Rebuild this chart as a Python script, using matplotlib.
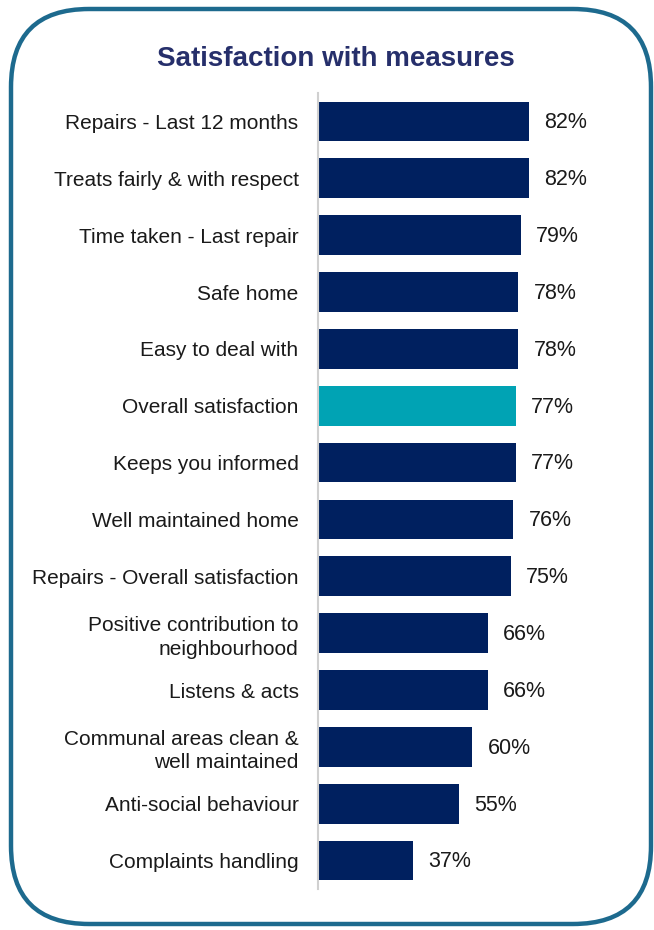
import matplotlib
matplotlib.use("Agg")
import matplotlib.pyplot as plt
from matplotlib.patches import FancyBboxPatch

categories = [
    "Repairs - Last 12 months",
    "Treats fairly & with respect",
    "Time taken - Last repair",
    "Safe home",
    "Easy to deal with",
    "Overall satisfaction",
    "Keeps you informed",
    "Well maintained home",
    "Repairs - Overall satisfaction",
    "Positive contribution to\nneighbourhood",
    "Listens & acts",
    "Communal areas clean &\nwell maintained",
    "Anti-social behaviour",
    "Complaints handling",
]
values = [82, 82, 79, 78, 78, 77, 77, 76, 75, 66, 66, 60, 55, 37]
highlight = "Overall satisfaction"

NAVY = "#00205f"
TEAL = "#00a3b4"

plt.rcParams['font.family'] = ['Liberation Sans', 'DejaVu Sans']

W, H = 654, 930
fig = plt.figure(figsize=(W / 100, H / 100), dpi=100)

# background axes in pixel coordinates for the rounded frame
bg = fig.add_axes([0, 0, 1, 1])
bg.set_xlim(0, W)
bg.set_ylim(H, 0)
bg.axis("off")
frame = FancyBboxPatch((11, 9), 640, 915,
                       boxstyle="round,pad=0,rounding_size=78",
                       fill=False, edgecolor="#1d6a8e", linewidth=3.2)
bg.add_patch(frame)

fig.text(336 / W, 1 - 59 / H, "Satisfaction with measures", ha="center", va="center",
         fontsize=20, fontweight="bold", color="#262f6b")

ax_left, ax_top, ax_bottom = 318, 93, 889
ax = fig.add_axes([ax_left / W, 1 - ax_bottom / H, 257 / W, (ax_bottom - ax_top) / H])

ypos = list(range(len(categories)))
colors = [TEAL if c == highlight else NAVY for c in categories]
ax.barh(ypos, values, height=0.7, color=colors)
ax.set_ylim(len(categories) - 0.5, -0.5)
ax.set_xlim(0, 100)

for y, v in zip(ypos, values):
    ax.annotate(f"{v}%", xy=(v, y), xytext=(11, -1), textcoords="offset points",
                ha="left", va="center", fontsize=15.5, color="#1a1a1a")

ax.set_yticks(ypos)
ax.set_yticklabels(categories, fontsize=15, color="#1a1a1a", ha="right",
                   multialignment="right", linespacing=1.3)
ax.tick_params(axis="y", length=0, pad=14)
ax.set_xticks([])
for s in ["top", "right", "bottom"]:
    ax.spines[s].set_visible(False)
ax.spines["left"].set_color("#d0d0d0")
ax.spines["left"].set_linewidth(1.5)
ax.patch.set_alpha(0)

fig.savefig("out.png", dpi=100)
